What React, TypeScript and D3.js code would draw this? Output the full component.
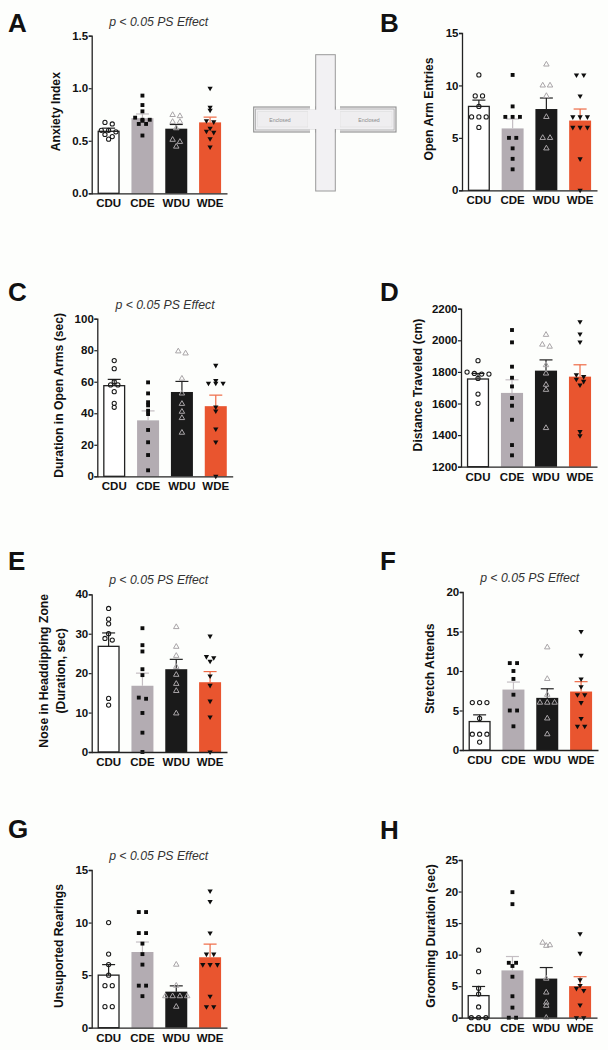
import React, { useEffect, useRef } from "react";
import * as d3 from "d3";

const groups = ["CDU", "CDE", "WDU", "WDE"];
const barColors = ["#ffffff", "#b3acb2", "#1a1a1a", "#e9552f"];
const errColors = ["#222222", "#c4bec3", "#222222", "#ee6a45"];

// one list per panel: points per group, bar heights, upper error
const anxietyPts = [
  [0.675, 0.66, 0.6, 0.6, 0.585, 0.56, 0.54, 0.515],
  [0.93, 0.84, 0.78, 0.72, 0.7, 0.7, 0.69, 0.66, 0.66, 0.55],
  [0.746, 0.735, 0.68, 0.68, 0.62, 0.51, 0.49, 0.445],
  [1.0, 0.82, 0.79, 0.69, 0.68, 0.62, 0.59, 0.58, 0.52, 0.44],
];
const anxietyBars = [0.59, 0.715, 0.615, 0.675];
const anxietyErr = [0.03, 0.04, 0.04, 0.05];

const entriesPts = [
  [11, 9, 9, 8, 7, 7, 7, 6],
  [11, 8, 7, 7, 7, 5, 5, 4, 3, 2],
  [12, 10, 10, 9, 7, 5, 5, 4],
  [11, 11, 9, 7, 7, 7, 6, 6, 6, 3, 0],
];
const entriesBars = [8, 5.9, 7.75, 6.65];
const entriesErr = [0.6, 0.9, 1.05, 1.1];

const durationPts = [
  [73.4, 68.3, 60, 58, 58, 53.7, 46.3, 43.8],
  [59.6, 52.6, 47, 45, 41.6, 39.5, 29.4, 21.6, 13.5, 3.8],
  [79.3, 78, 62, 52.6, 46, 41, 37, 27.7],
  [70.4, 60.7, 59, 59, 59, 44, 41.4, 30, 21.8, 0],
];
const durationBars = [57.5, 35.5, 53.5, 44.5];
const durationErr = [4, 6, 6.7, 7];

const distancePts = [
  [1871, 1799, 1790, 1786, 1786, 1759, 1660, 1601],
  [2065, 1987, 1833, 1763, 1708, 1635, 1586, 1497, 1337, 1272],
  [2035, 1973, 1960, 1843, 1790, 1719, 1687, 1445],
  [2118, 2040, 1989, 1782, 1770, 1753, 1740, 1717, 1422, 1396],
];
const distanceBars = [1755, 1667, 1808, 1770];
const distanceErr = [35, 83, 68, 75];

const nosePts = [
  [36.4, 33.7, 32.5, 30, 28.8, 28.4, 13.6, 11.9],
  [31.4, 27.1, 25.5, 21, 19.5, 13.8, 13.5, 9.9, 4.9, 0],
  [31.7, 26.7, 24.4, 21.6, 19.6, 17.3, 15.5, 9.8],
  [29.4, 24.2, 23.9, 23, 19.3, 16.9, 12.9, 8.9, 0],
];
const noseBars = [26.8, 16.8, 21, 17.7];
const noseErr = [3.4, 3.2, 2.5, 2.7];

const stretchPts = [
  [6, 6, 6, 4, 2, 2, 2, 1],
  [11, 11, 10, 9, 7, 5, 5, 3],
  [13, 9, 7, 6, 6, 6, 4, 2],
  [15, 12, 9, 8, 7, 7, 6, 4, 3, 3],
];
const stretchBars = [3.6, 7.65, 6.6, 7.4];
const stretchErr = [0.85, 0.95, 1.15, 1.25];

const rearingPts = [
  [10, 7, 6, 5, 4, 4, 2, 2],
  [11, 11, 9, 9, 8, 7, 6, 4, 4, 3],
  [6, 4, 3, 3, 3, 3, 2],
  [13, 12, 9, 7, 7, 6, 6, 6, 3, 2, 2],
];
const rearingBars = [5, 7.2, 3.43, 6.7];
const rearingErr = [1, 0.95, 0.55, 1.25];

const groomingPts = [
  [10.7, 7.3, 4.65, 3.75, 1.7, 0, 0, 0],
  [19.9, 18, 8.7, 8.7, 8.2, 6.5, 3.4, 1.6, 0, 0],
  [11.9, 11.5, 11.4, 6.2, 4, 2.4, 1.9, 0],
  [13.3, 10.2, 6, 5.1, 4.65, 4.3, 2, 0, 0],
];
const groomingBars = [3.5, 7.5, 6.2, 5];
const groomingErr = [1.45, 2.2, 1.75, 1.5];

const panels = [
  { letter: "A", lx: 8, ly: 32, x0: 91.7, x1: 227, top: 35.7, bottom: 193.3, domain: [0, 1.5], ticks: [0, 0.5, 1, 1.5], fmt: ".1f", pts: anxietyPts, bars: anxietyBars, err: anxietyErr, label: ["Anxiety Index"], labelX: 60, labelY: 111.7, note: [158.7, 26] },
  { letter: "B", lx: 380, ly: 32, x0: 462, x1: 597, top: 33, bottom: 190.3, domain: [0, 15], ticks: [0, 5, 10, 15], fmt: "d", pts: entriesPts, bars: entriesBars, err: entriesErr, label: ["Open Arm Entries"], labelX: 433, labelY: 109 },
  { letter: "C", lx: 8, ly: 301, x0: 97.3, x1: 232.7, top: 318.7, bottom: 476.3, domain: [0, 100], ticks: [0, 20, 40, 60, 80, 100], fmt: "d", pts: durationPts, bars: durationBars, err: durationErr, label: ["Duration in Open Arms (sec)"], labelX: 63.3, labelY: 395.3, note: [165, 308.7] },
  { letter: "D", lx: 380, ly: 300.7, x0: 461, x1: 597, top: 308.7, bottom: 466.7, domain: [1200, 2200], ticks: [1200, 1400, 1600, 1800, 2000, 2200], fmt: "d", pts: distancePts, bars: distanceBars, err: distanceErr, label: ["Distance Traveled (cm)"], labelX: 421.7, labelY: 385 },
  { letter: "E", lx: 8, ly: 570, x0: 91.7, x1: 227, top: 594.3, bottom: 752, domain: [0, 40], ticks: [0, 10, 20, 30, 40], fmt: "d", pts: nosePts, bars: noseBars, err: noseErr, label: ["Nose in Headdipping Zone", "(Duration, sec)"], labelX: 48.3, labelY: 670.8, note: [158.7, 584] },
  { letter: "F", lx: 380, ly: 570, x0: 462.7, x1: 598, top: 592, bottom: 750, domain: [0, 20], ticks: [0, 5, 10, 15, 20], fmt: "d", pts: stretchPts, bars: stretchBars, err: stretchErr, label: ["Stretch Attends"], labelX: 434, labelY: 668.7, note: [529.7, 582] },
  { letter: "G", lx: 8, ly: 838, x0: 91.7, x1: 227, top: 870, bottom: 1027.7, domain: [0, 15], ticks: [0, 5, 10, 15], fmt: "d", pts: rearingPts, bars: rearingBars, err: rearingErr, label: ["Unsuported Rearings"], labelX: 62.7, labelY: 946, note: [158.7, 860] },
  { letter: "H", lx: 380, ly: 839, x0: 461.7, x1: 597, top: 860, bottom: 1017.7, domain: [0, 25], ticks: [0, 5, 10, 15, 20, 25], fmt: "d", pts: groomingPts, bars: groomingBars, err: groomingErr, label: ["Grooming Duration (sec)"], labelX: 434.7, labelY: 936 },
];

const FONT = "'Liberation Sans', Arial, sans-serif";
const INK = "#222222";

// points with nearly the same y go side by side, centred on the bar
const spreadRows = (vals: number[], y: any) => {
  const rows: number[][] = [];
  vals.forEach((v) => {
    const row = rows[rows.length - 1];
    if (row && Math.abs(y(row[0]) - y(v)) < 2.6) row.push(v);
    else rows.push([v]);
  });
  return rows.flatMap((row) =>
    row.map((v, i) => ({ v, off: (i - (row.length - 1) / 2) * 7.3 }))
  );
};

const drawMarker = (g: any, i: number, cx: number, cy: number) => {
  if (i === 0) {
    g.append("circle").attr("cx", cx).attr("cy", cy).attr("r", 2.1)
      .attr("fill", "none").attr("stroke", "#1a1a1a").attr("stroke-width", 1.05);
  } else if (i === 1) {
    g.append("path").attr("d", d3.symbol(d3.symbolSquare, 15)())
      .attr("transform", `translate(${cx},${cy})`).attr("fill", "#0d0d0d");
  } else if (i === 2) {
    g.append("path").attr("d", d3.symbol(d3.symbolTriangle, 13)())
      .attr("transform", `translate(${cx},${cy})`)
      .attr("fill", "none").attr("stroke", "#a9a5a8").attr("stroke-width", 1);
  } else {
    g.append("path").attr("d", d3.symbol(d3.symbolTriangle, 12)())
      .attr("transform", `translate(${cx},${cy}) rotate(180)`).attr("fill", "#0d0d0d");
  }
};

const drawPanel = (svg: any, p: any) => {
  const x = d3.scaleBand().domain(groups).range([p.x0, p.x1]).paddingInner(0.35).paddingOuter(0.175);
  const y = d3.scaleLinear().domain(p.domain).range([p.bottom, p.top]);
  const g = svg.append("g");

  g.append("text").text(p.letter).attr("x", p.lx).attr("y", p.ly)
    .attr("font-family", FONT).attr("font-weight", "bold").attr("font-size", 26).attr("fill", "#111111");

  if (p.note) {
    g.append("text").text("p < 0.05 PS Effect").attr("x", p.note[0]).attr("y", p.note[1])
      .attr("text-anchor", "middle").attr("font-family", FONT).attr("font-style", "italic")
      .attr("font-size", 12.25).attr("fill", "#333333");
  }

  groups.forEach((name, i) => {
    const bx = x(name) as number;
    const cx = bx + x.bandwidth() / 2;
    const white = i === 0;
    g.append("rect")
      .attr("x", bx + (white ? 0.6 : 0))
      .attr("y", y(p.bars[i]))
      .attr("width", x.bandwidth() - (white ? 1.2 : 0))
      .attr("height", p.bottom - y(p.bars[i]))
      .attr("fill", barColors[i])
      .attr("stroke", white ? INK : "none")
      .attr("stroke-width", 1.3);
    const yTop = y(p.bars[i] + p.err[i]);
    g.append("line").attr("x1", cx).attr("x2", cx).attr("y1", y(p.bars[i])).attr("y2", yTop)
      .attr("stroke", errColors[i]).attr("stroke-width", 1.2);
    g.append("line").attr("x1", cx - 6.5).attr("x2", cx + 6.5).attr("y1", yTop).attr("y2", yTop)
      .attr("stroke", errColors[i]).attr("stroke-width", 1.2);
    spreadRows(p.pts[i], y).forEach((d: any) => drawMarker(g, i, cx + d.off, y(d.v)));
  });

  const yAxis = d3.axisLeft(y).tickValues(p.ticks).tickFormat(d3.format(p.fmt)).tickSize(3).tickPadding(0.5);
  const ya = g.append("g").attr("transform", `translate(${p.x0},0)`).call(yAxis);
  const xAxis = d3.axisBottom(x).tickSize(0).tickPadding(6);
  const xa = g.append("g").attr("transform", `translate(0,${p.bottom})`).call(xAxis);
  [ya, xa].forEach((a) => {
    a.selectAll("path").attr("stroke", INK).attr("stroke-width", 1.3);
    a.selectAll("line").attr("stroke", INK).attr("stroke-width", 1.2);
    a.selectAll("text").attr("font-family", FONT).attr("font-weight", "bold")
      .attr("font-size", 11.5).attr("fill", "#111111");
  });

  p.label.forEach((line: string, i: number) => {
    const lx = p.labelX + i * 16.7;
    g.append("text").text(line)
      .attr("transform", `translate(${lx},${p.labelY}) rotate(-90)`)
      .attr("text-anchor", "middle").attr("font-family", FONT).attr("font-weight", "bold")
      .attr("font-size", 12.2).attr("fill", "#111111");
  });
};

// the maze diagram between panels A and B
const drawMaze = (svg: any) => {
  const g = svg.append("g");
  const box = (x: number, y: number, w: number, h: number, fill: string, stroke: string, sw = 1) =>
    g.append("rect").attr("x", x).attr("y", y).attr("width", w).attr("height", h)
      .attr("fill", fill).attr("stroke", stroke).attr("stroke-width", sw);
  box(253.7, 107, 62, 25, "#f1f0f2", "#8f8f8f", 1.1);
  box(255.6, 109, 60, 21, "#f1f0f2", "#a8a8a8", 0.8);
  box(335.3, 107, 60.7, 25, "#f1f0f2", "#8f8f8f", 1.1);
  box(335.3, 109, 58.8, 21, "#f1f0f2", "#a8a8a8", 0.8);
  box(315.7, 54.7, 19.6, 136.3, "#f2f1f3", "#9a9a9a", 1);
  box(257.7, 111.7, 50.3, 15.3, "#efeef0", "#dcdcdc", 0.6);
  box(340, 111.7, 52, 15.3, "#efeef0", "#dcdcdc", 0.6);
  g.append("rect").attr("x", 308).attr("y", 109.7).attr("width", 32).attr("height", 19.3).attr("fill", "#f2f1f3");
  g.append("rect").attr("x", 310).attr("y", 106).attr("width", 5).attr("height", 3.5).attr("fill", "#fdfefc");
  g.append("rect").attr("x", 310).attr("y", 129.5).attr("width", 5).attr("height", 3.5).attr("fill", "#fdfefc");
  g.append("rect").attr("x", 336).attr("y", 106).attr("width", 4).attr("height", 3.5).attr("fill", "#fdfefc");
  g.append("rect").attr("x", 336).attr("y", 129.5).attr("width", 4).attr("height", 3.5).attr("fill", "#fdfefc");
  [[280, 122], [369, 122]].forEach(([tx, ty]) => {
    g.append("text").text("Enclosed").attr("x", tx).attr("y", ty).attr("text-anchor", "middle")
      .attr("font-family", FONT).attr("font-size", 5.2).attr("fill", "#8a8a8a");
  });
};

const App = () => {
  const ref = useRef<SVGSVGElement>(null);

  useEffect(() => {
    const svg = d3.select(ref.current);
    svg.selectAll("*").remove();
    drawMaze(svg);
    panels.forEach((p) => drawPanel(svg, p));
  }, []);

  return (
    <svg
      ref={ref}
      width={608}
      height={1050}
      style={{ position: "absolute", left: 0, top: 0, background: "#fdfefc" }}
    />
  );
};

export default App;
